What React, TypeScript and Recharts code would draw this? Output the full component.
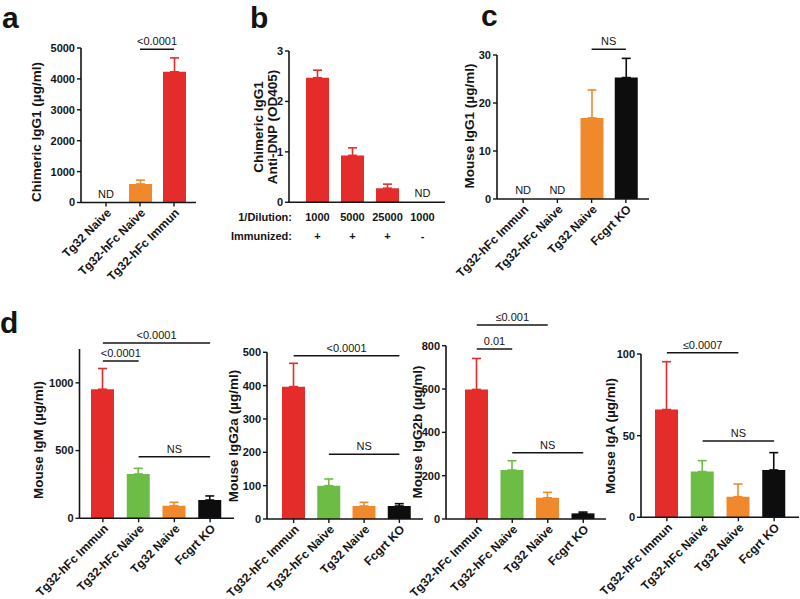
import { BarChart, Bar, XAxis, YAxis, Cell, ErrorBar, ReferenceLine, ReferenceDot } from 'recharts';

const W = 800;
const H = 599;
const FONT = '"Liberation Sans", Arial, Helvetica, sans-serif';
const INK = '#141414';

const RED = '#e42d2b';
const ORANGE = '#f0892b';
const GREEN = '#6cbc46';
const BLACK = '#0d0d0d';

// panel a
const groupsA = ['Tg32 Naive', 'Tg32-hFc Naive', 'Tg32-hFc Immun'];
const meansA = [0, 600, 4230];
const errA = [null, 125, 450];
const colorsA = [BLACK, ORANGE, RED];
const ndA = ['ND', '', ''];

// panel b
const dilutionsB = ['1000', '5000', '25000', '1000'];
const immunizedB = ['+', '+', '+', '-'];
const meansB = [2.47, 0.93, 0.28, 0];
const errB = [0.15, 0.15, 0.08, null];
const colorsB = [RED, RED, RED, RED];
const ndB = ['', '', '', 'ND'];

// panel c
const groupsC = ['Tg32-hFc Immun', 'Tg32-hFc Naive', 'Tg32 Naive', 'Fcgrt KO'];
const meansC = [0, 0, 16.9, 25.3];
const errC = [null, null, 5.8, 4.0];
const colorsC = [RED, GREEN, ORANGE, BLACK];
const ndC = ['ND', 'ND', '', ''];

// panel d
const groupsD = ['Tg32-hFc Immun', 'Tg32-hFc Naive', 'Tg32 Naive', 'Fcgrt KO'];
const colorsD = [RED, GREEN, ORANGE, BLACK];
const igmMeans = [953, 327, 93, 135];
const igmErr = [153, 42, 25, 30];
const igg2aMeans = [397, 100, 39, 39];
const igg2aErr = [70, 20, 11, 7];
const igg2bMeans = [598, 226, 98, 26];
const igg2bErr = [143, 43, 25, 6];
const igaMeans = [66, 28, 12.6, 29];
const igaErr = [29.3, 6.7, 7.8, 10.6];

// significance brackets
const sigA = [{ from: 'Tg32-hFc Naive', to: 'Tg32-hFc Immun', y: 4960, text: '<0.0001' }];
const sigC = [{ from: 'Tg32 Naive', to: 'Fcgrt KO', y: 31.2, text: 'NS' }];
const sigIgM = [
  { from: 'Tg32-hFc Immun', to: 'Fcgrt KO', y: 1295, text: '<0.0001' },
  { from: 'Tg32-hFc Immun', to: 'Tg32-hFc Naive', y: 1162, text: '<0.0001' },
  { from: 'Tg32-hFc Naive', to: 'Fcgrt KO', y: 454, text: 'NS' },
];
const sigIgG2a = [
  { from: 'Tg32-hFc Immun', to: 'Fcgrt KO', y: 490, text: '<0.0001' },
  { from: 'Tg32-hFc Naive', to: 'Fcgrt KO', y: 194, text: 'NS' },
];
const sigIgG2b = [
  { from: 'Tg32-hFc Immun', to: 'Tg32 Naive', y: 895, text: '≤0.001' },
  { from: 'Tg32-hFc Immun', to: 'Tg32-hFc Naive', y: 785, text: '0.01' },
  { from: 'Tg32-hFc Naive', to: 'Fcgrt KO', y: 306, text: 'NS' },
];
const sigIgA = [
  { from: 'Tg32-hFc Immun', to: 'Tg32 Naive', y: 100.8, text: '≤0.0007' },
  { from: 'Tg32-hFc Naive', to: 'Fcgrt KO', y: 46.7, text: 'NS' },
];

const ERR_KEYS: Record<string, string> = { [RED]: 'eRed', [ORANGE]: 'eOrange', [GREEN]: 'eGreen', [BLACK]: 'eBlack' };

function buildRows(names: string[], means: number[], errs: (number | null)[], colors: string[], nd?: string[]) {
  return names.map((name, i) => {
    const row: any = { name, value: means[i], color: colors[i], nd: nd ? nd[i] : '' };
    if (errs[i] != null) row[ERR_KEYS[colors[i]]] = [0, errs[i]];
    return row;
  });
}

const panels = [
  {
    id: 'a', rows: buildRows(groupsA, meansA, errA, colorsA, ndA),
    x0: 81, x1: 196, y0: 48, y1: 202.5, padL: 8, padR: 5,
    domain: [0, 5000], ticks: [0, 1000, 2000, 3000, 4000, 5000], sig: sigA, dilution: false,
  },
  {
    id: 'b', rows: buildRows(dilutionsB.map((d, i) => `${d}-${i}`), meansB, errB, colorsB, ndB),
    x0: 289, x1: 445, y0: 51, y1: 202.3, padL: 11, padR: 5,
    domain: [0, 3], ticks: [0, 1, 2, 3], sig: [], dilution: true,
  },
  {
    id: 'c', rows: buildRows(groupsC, meansC, errC, colorsC, ndC),
    x0: 497, x1: 649, y0: 55, y1: 199, padL: 9, padR: 6,
    domain: [0, 30], ticks: [0, 10, 20, 30], sig: sigC, dilution: false,
  },
  {
    id: 'd1', rows: buildRows(groupsD, igmMeans, igmErr, colorsD),
    x0: 79.5, x1: 234, y0: 349, y1: 518.3, padL: 5.5, padR: 6,
    domain: [0, 1250], ticks: [0, 500, 1000], sig: sigIgM, dilution: false,
  },
  {
    id: 'd2', rows: buildRows(groupsD, igg2aMeans, igg2aErr, colorsD),
    x0: 267, x1: 423, y0: 352.3, y1: 519, padL: 9, padR: 6,
    domain: [0, 500], ticks: [0, 100, 200, 300, 400, 500], sig: sigIgG2a, dilution: false,
  },
  {
    id: 'd3', rows: buildRows(groupsD, igg2bMeans, igg2bErr, colorsD),
    x0: 446, x1: 606, y0: 345.7, y1: 519, padL: 13, padR: 5,
    domain: [0, 800], ticks: [0, 200, 400, 600, 800], sig: sigIgG2b, dilution: false,
  },
  {
    id: 'd4', rows: buildRows(groupsD, igaMeans, igaErr, colorsD),
    x0: 641, x1: 799, y0: 354, y1: 517.3, padL: 8, padR: 7,
    domain: [0, 100], ticks: [0, 50, 100], sig: sigIgA, dilution: false,
  },
];

function DilutionTick(props: any) {
  const { x, y, index } = props;
  const common = { textAnchor: 'middle' as const, fontSize: 11, fontWeight: 700, fontFamily: FONT, fill: INK };
  return (
    <g>
      <text x={x} y={y + 13} {...common}>{dilutionsB[index]}</text>
      <text x={x} y={y + 32} {...common}>{immunizedB[index]}</text>
    </g>
  );
}

function Panel({ p }: { p: any }) {
  const yAxisW = 40;
  const xAxisH = 60;
  const margin = { top: p.y0, left: p.x0 - yAxisW, right: W - p.x1, bottom: H - p.y1 - xAxisH };
  return (
    <div style={{ position: 'absolute', left: 0, top: 0 }}>
      <BarChart width={W} height={H} data={p.rows} margin={margin}>
        <XAxis
          dataKey="name"
          height={xAxisH}
          interval={0}
          padding={{ left: p.padL, right: p.padR }}
          axisLine={{ stroke: INK, strokeWidth: 1.6 }}
          tickLine={p.dilution ? false : { stroke: INK, strokeWidth: 1.4 }}
          tickSize={4}
          tickMargin={p.dilution ? 2 : 1}
          tick={
            p.dilution
              ? <DilutionTick />
              : { angle: -45, textAnchor: 'end', fontSize: 12, fontWeight: 700, fill: INK, fontFamily: FONT }
          }
        />
        <YAxis
          type="number"
          width={yAxisW}
          domain={p.domain}
          ticks={p.ticks}
          allowDataOverflow
          axisLine={{ stroke: INK, strokeWidth: 1.6 }}
          tickLine={{ stroke: INK, strokeWidth: 1.4 }}
          tickSize={4}
          tick={{ fontSize: 11, fontWeight: 700, fill: INK, fontFamily: FONT }}
        />
        <Bar dataKey="value" barSize={23} isAnimationActive={false}>
          {p.rows.map((r: any, i: number) => (
            <Cell key={`cell-${i}`} fill={r.color} />
          ))}
          <ErrorBar dataKey="eRed" width={4.5} stroke={RED} strokeWidth={1.6} />
          <ErrorBar dataKey="eOrange" width={4.5} stroke={ORANGE} strokeWidth={1.6} />
          <ErrorBar dataKey="eGreen" width={4.5} stroke={GREEN} strokeWidth={1.6} />
          <ErrorBar dataKey="eBlack" width={4.5} stroke={BLACK} strokeWidth={1.6} />
        </Bar>
        {p.rows
          .filter((r: any) => r.nd)
          .map((r: any) => (
            <ReferenceDot
              key={`nd-${r.name}`}
              x={r.name}
              y={0}
              r={0}
              ifOverflow="visible"
              fill="none"
              stroke="none"
              label={{ value: r.nd, position: 'top', offset: 5, fontSize: 11, fill: INK, fontFamily: FONT }}
            />
          ))}
        {p.sig.map((s: any, i: number) => (
          <ReferenceLine
            key={`sig-${i}`}
            segment={[{ x: s.from, y: s.y }, { x: s.to, y: s.y }]}
            ifOverflow="visible"
            stroke={INK}
            strokeWidth={1.5}
            label={{ value: s.text, position: 'top', offset: 4, fontSize: 11, fill: INK, fontFamily: FONT }}
          />
        ))}
      </BarChart>
    </div>
  );
}

function YTitle({ cx, cy, lines }: { cx: number; cy: number; lines: string[] }) {
  const lh = 13.5;
  return (
    <text
      transform={`translate(${cx},${cy}) rotate(-90)`}
      textAnchor="middle"
      fontSize={13.5}
      fontWeight={700}
      fontFamily={FONT}
      fill={INK}
    >
      {lines.map((l, i) => (
        <tspan key={i} x={0} y={(i - (lines.length - 1) / 2) * lh + 4.5}>{l}</tspan>
      ))}
    </text>
  );
}

export default function App() {
  const letter = { fontSize: 30, fontWeight: 700, fontFamily: FONT, fill: INK };
  const header = { fontSize: 11, fontWeight: 700, fontFamily: FONT, fill: INK, textAnchor: 'end' as const };
  return (
    <div style={{ position: 'absolute', left: 0, top: 0, width: W, height: H, background: '#fff', overflow: 'hidden' }}>
      {panels.map((p) => (
        <Panel key={p.id} p={p} />
      ))}
      <svg width={W} height={H} style={{ position: 'absolute', left: 0, top: 0, pointerEvents: 'none' }}>
        <text x={2} y={28} {...letter}>a</text>
        <text x={250} y={28} {...letter}>b</text>
        <text x={481} y={26} {...letter}>c</text>
        <text x={0} y={333} {...letter}>d</text>
        <text x={292} y={221} {...header}>1/Dilution:</text>
        <text x={292} y={240} {...header}>Immunized:</text>
        <YTitle cx={36} cy={132} lines={['Chimeric IgG1 (µg/ml)']} />
        <YTitle cx={265.5} cy={127} lines={['Chimeric IgG1', 'Anti-DNP (OD405)']} />
        <YTitle cx={469} cy={126} lines={['Mouse IgG1 (µg/ml)']} />
        <YTitle cx={38} cy={440} lines={['Mouse IgM (µg/ml)']} />
        <YTitle cx={233} cy={436} lines={['Mouse IgG2a (µg/ml)']} />
        <YTitle cx={417.5} cy={432} lines={['Mouse IgG2b (µg/ml)']} />
        <YTitle cx={610} cy={436} lines={['Mouse IgA (µg/ml)']} />
      </svg>
    </div>
  );
}
